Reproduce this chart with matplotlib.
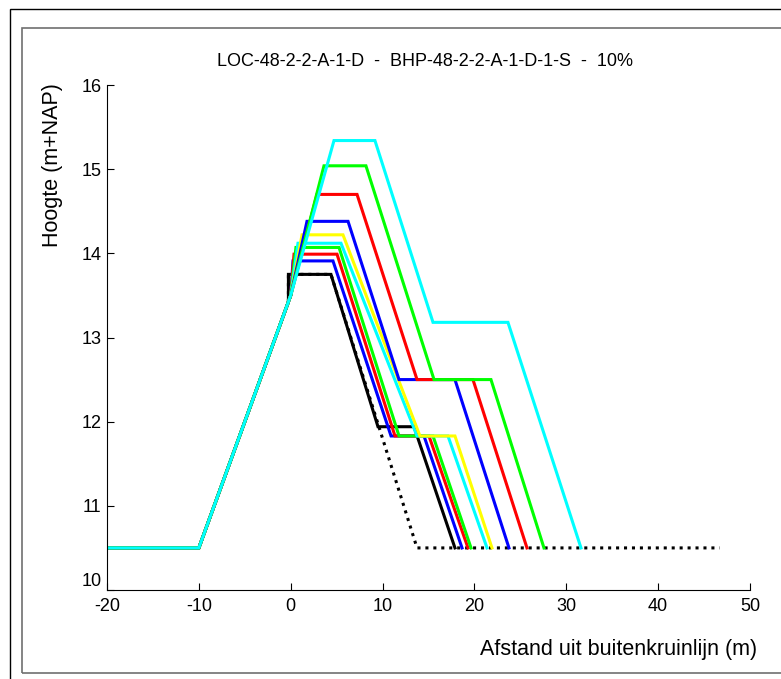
import matplotlib
matplotlib.use("Agg")
import matplotlib.pyplot as plt
from matplotlib.patches import Rectangle

plt.rcParams['font.family'] = ['Liberation Sans', 'DejaVu Sans']
plt.rcParams['axes.unicode_minus'] = False

# gemeenschappelijk buitentalud
x_common = [-20, -10, 0]
y_common = [10.5, 10.5, 13.5]

# profielen: kleur, kruin links, kruin rechts, kruinhoogte, berm links, berm rechts, bermhoogte, teen
kleuren = ['#000000', '#0000ff', '#ff0000', '#00ff00', '#00ffff', '#ffff00',
           '#0000ff', '#ff0000', '#00ff00', '#00ffff']
kruin_l = [-0.25, 0.25, 0.36, 0.57, 0.79, 1.23, 1.77, 2.86, 3.62, 4.71]
kruin_r = [4.38, 4.60, 5.04, 5.26, 5.47, 5.69, 6.24, 7.22, 8.19, 9.17]
kruin_h = [13.75, 13.91, 13.99, 14.07, 14.12, 14.22, 14.38, 14.70, 15.04, 15.34]
berm_l = [9.50, 10.92, 11.35, 11.79, 13.75, 14.07, 11.79, 13.75, 15.60, 15.49]
berm_r = [13.42, 14.51, 15.05, 15.49, 17.12, 17.88, 17.88, 19.84, 21.80, 23.65]
berm_h = [11.94, 11.83, 11.83, 11.83, 11.83, 11.83, 12.50, 12.50, 12.50, 13.18]
teen = [17.88, 18.65, 19.30, 19.63, 21.37, 21.91, 23.76, 25.72, 27.57, 31.60]
maaiveld = 10.5

# bestaand profiel (stippellijn), zichtbaar deel vanaf de kruin
x_best = [-0.25, -0.25, 4.38, 13.75, 46.7]
y_best = [13.42, 13.75, 13.75, 10.5, 10.5]

fig = plt.figure(figsize=(7.81, 6.79), dpi=100)
fig.patches.append(Rectangle((10/781, -0.1), 1.2, 1 - 9/679 + 0.1, transform=fig.transFigure,
                             fill=False, edgecolor='black', lw=1))
fig.patches.append(Rectangle((22/781, 1 - 673/679), 1.2, (673 - 28)/679, transform=fig.transFigure,
                             fill=False, edgecolor='#707070', lw=1.2))

ax = fig.add_axes([107/781, 1 - 590/679, (750 - 107)/781, (590 - 85)/679])

# stippellijn eerst, zodat de gekleurde lijnen erover liggen
ax.plot(x_best, y_best, color='k', lw=2.2, linestyle=(0, (1, 1.6)))

for i in range(len(kleuren)):
    if i == 0:
        xs = [-20, -10, -0.25, kruin_l[i]]
        ys = [10.5, 10.5, 13.42, kruin_h[i]]
    else:
        xs = x_common + [kruin_l[i]]
        ys = y_common + [kruin_h[i]]
    xs = xs + [kruin_r[i], berm_l[i], berm_r[i], teen[i]]
    ys = ys + [kruin_h[i], berm_h[i], berm_h[i], maaiveld]
    ax.plot(xs, ys, color=kleuren[i], lw=2.2, solid_joinstyle='miter')

ax.set_xlim(-20, 50)
ax.set_ylim(10, 16)
ax.set_xticks(range(-20, 51, 10))
ax.set_yticks(range(10, 17))
ax.spines['top'].set_visible(False)
ax.spines['right'].set_visible(False)
ax.tick_params(direction='in', length=5, labelsize=13)
ax.tick_params(axis='x', pad=6)
ax.tick_params(axis='y', pad=4)
ax.get_yticklabels()[0].set_verticalalignment('bottom')

fig.text(425/781, 1 - 62/679, 'LOC-48-2-2-A-1-D  -  BHP-48-2-2-A-1-D-1-S  -  10%',
         ha='center', va='center', fontsize=13)
fig.text(757/781, 1 - 650/679, 'Afstand uit buitenkruinlijn (m)', ha='right', va='center', fontsize=15.5)
fig.text(53/781, 1 - 165/679, 'Hoogte (m+NAP)', ha='center', va='center', rotation=90, fontsize=15.5)

fig.savefig('out.png', dpi=100)
